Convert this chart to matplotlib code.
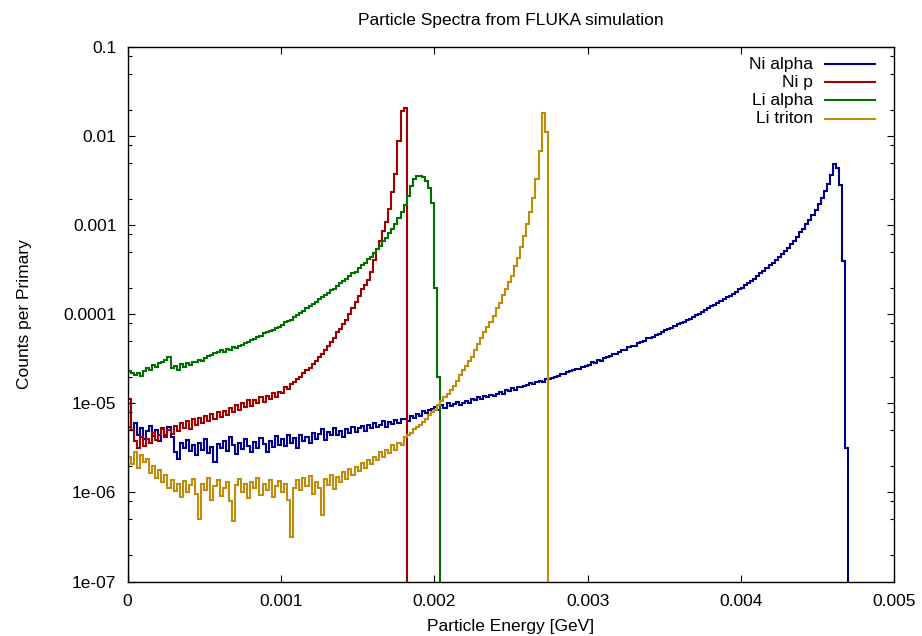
import numpy as np
import matplotlib
matplotlib.use("Agg")
import matplotlib.pyplot as plt
from matplotlib.ticker import FixedLocator, FixedFormatter, LogLocator, NullLocator, NullFormatter

binWidth = 2e-5  # GeV per histogram bin, first bin starts at 0

# log10(counts per primary), one value per bin
niAlphaLog = [
    -5.26, -5.30, -5.22, -5.36, -5.28, -5.40, -5.31, -5.25, -5.37, -5.30,
    -5.42, -5.29, -5.35, -5.27, -5.38, -5.55, -5.62, -5.44, -5.50, -5.41,
    -5.53, -5.47, -5.58, -5.45, -5.52, -5.40, -5.56, -5.49, -5.66, -5.46,
    -5.50, -5.42, -5.53, -5.38, -5.47, -5.57, -5.44, -5.51, -5.40, -5.48,
    -5.55, -5.43, -5.50, -5.39, -5.46, -5.54, -5.42, -5.49, -5.37, -5.47,
    -5.40, -5.48, -5.36, -5.45, -5.39, -5.50, -5.35, -5.42, -5.38, -5.44,
    -5.33, -5.40, -5.34, -5.29, -5.41, -5.32, -5.36, -5.28, -5.35, -5.31,
    -5.38, -5.29, -5.33, -5.27, -5.32, -5.28, -5.25, -5.31, -5.24, -5.28,
    -5.22, -5.27, -5.24, -5.20, -5.26, -5.21, -5.23, -5.19, -5.22, -5.18,
    -5.17, -5.20, -5.14, -5.16, -5.12, -5.14, -5.09, -5.11, -5.07, -5.06,
    -5.04, -5.07, -5.02, -5.05, -5.00, -5.03, -5.01, -4.98, -5.02, -4.99,
    -4.97, -4.99, -4.95, -4.96, -4.93, -4.95, -4.92, -4.93, -4.90, -4.92,
    -4.89, -4.87, -4.89, -4.85, -4.86, -4.83, -4.85, -4.82, -4.81, -4.80,
    -4.79, -4.77, -4.78, -4.76, -4.75, -4.76, -4.73, -4.73, -4.71, -4.70,
    -4.69, -4.67, -4.67, -4.65, -4.64, -4.63, -4.61, -4.61, -4.59, -4.58,
    -4.57, -4.54, -4.55, -4.51, -4.52, -4.49, -4.48, -4.47, -4.44, -4.44,
    -4.42, -4.40, -4.40, -4.37, -4.36, -4.35, -4.32, -4.31, -4.30, -4.27,
    -4.27, -4.25, -4.23, -4.22, -4.20, -4.18, -4.16, -4.15, -4.13, -4.11,
    -4.10, -4.08, -4.06, -4.05, -4.03, -4.01, -3.99, -3.97, -3.95, -3.93,
    -3.91, -3.89, -3.87, -3.85, -3.83, -3.81, -3.79, -3.77, -3.75, -3.72,
    -3.70, -3.67, -3.65, -3.62, -3.60, -3.57, -3.54, -3.51, -3.48, -3.45,
    -3.42, -3.39, -3.36, -3.32, -3.29, -3.25, -3.21, -3.17, -3.13, -3.08,
    -3.04, -2.99, -2.94, -2.88, -2.83, -2.76, -2.69, -2.61, -2.53, -2.43,
    -2.31, -2.36, -2.55, -3.40, -5.50,
]
niPLog = [
    -4.95, -5.30, -5.42, -5.50, -5.38, -5.48, -5.40, -5.45, -5.33, -5.41,
    -5.35, -5.28, -5.38, -5.30, -5.34, -5.25, -5.31, -5.22, -5.28, -5.20,
    -5.29, -5.18, -5.24, -5.16, -5.22, -5.14, -5.20, -5.12, -5.17, -5.10,
    -5.15, -5.08, -5.13, -5.05, -5.10, -5.02, -5.07, -4.99, -5.04, -4.96,
    -5.03, -4.96, -5.00, -4.93, -4.98, -4.92, -4.95, -4.88, -4.93, -4.87,
    -4.88, -4.82, -4.84, -4.78, -4.76, -4.73, -4.70, -4.66, -4.63, -4.60,
    -4.56, -4.52, -4.48, -4.44, -4.40, -4.35, -4.31, -4.26, -4.20, -4.16,
    -4.11, -4.06, -3.99, -3.93, -3.86, -3.79, -3.72, -3.67, -3.61, -3.52,
    -3.39, -3.27, -3.17, -3.06, -2.96, -2.82, -2.62, -2.42, -2.05, -1.72,
    -1.68,
]
liAlphaLog = [
    -4.64, -4.66, -4.68, -4.66, -4.69, -4.64, -4.60, -4.62, -4.57, -4.59,
    -4.55, -4.53, -4.51, -4.48, -4.60, -4.58, -4.62, -4.56, -4.59, -4.55,
    -4.57, -4.53, -4.54, -4.51, -4.52, -4.49, -4.47, -4.46, -4.43, -4.42,
    -4.40, -4.42, -4.39, -4.40, -4.37, -4.38, -4.35, -4.34, -4.32, -4.31,
    -4.29, -4.28, -4.25, -4.24, -4.21, -4.20, -4.19, -4.17, -4.15, -4.14,
    -4.12, -4.09, -4.07, -4.06, -4.03, -4.01, -3.98, -3.96, -3.93, -3.91,
    -3.88, -3.86, -3.83, -3.81, -3.78, -3.76, -3.73, -3.71, -3.68, -3.65,
    -3.63, -3.60, -3.57, -3.54, -3.52, -3.48, -3.45, -3.42, -3.38, -3.35,
    -3.31, -3.27, -3.23, -3.18, -3.14, -3.09, -3.04, -2.98, -2.92, -2.85,
    -2.77, -2.67, -2.56, -2.48, -2.45, -2.44, -2.46, -2.50, -2.58, -2.75,
    -3.70, -4.70,
]
liTritonLog = [
    -5.60, -5.68, -5.55, -5.72, -5.58, -5.66, -5.62, -5.78, -5.70, -5.84,
    -5.75, -5.88, -5.80, -5.95, -5.86, -5.98, -5.90, -6.05, -5.87, -6.00,
    -5.92, -5.85, -6.02, -6.30, -5.90, -5.97, -5.84, -6.08, -5.93, -5.86,
    -6.04, -5.95, -5.88, -6.10, -6.32, -5.92, -5.85, -6.00, -5.90, -6.06,
    -5.88, -5.95, -5.84, -6.03, -5.91, -5.97, -5.86, -6.05, -5.93, -5.87,
    -6.00, -5.90, -6.08, -6.50, -5.95, -5.86, -5.97, -5.84, -5.93, -5.82,
    -6.02, -5.88, -5.95, -6.25, -5.85, -5.92, -5.80, -5.96, -5.83, -5.88,
    -5.77, -5.85, -5.74, -5.80, -5.71, -5.76, -5.67, -5.72, -5.63, -5.68,
    -5.60, -5.64, -5.55, -5.60, -5.52, -5.56, -5.47, -5.52, -5.44, -5.47,
    -5.38, -5.35, -5.33, -5.29, -5.26, -5.24, -5.21, -5.18, -5.13, -5.10,
    -5.07, -5.02, -4.97, -4.93, -4.89, -4.85, -4.80, -4.75, -4.68, -4.63,
    -4.58, -4.52, -4.48, -4.40, -4.33, -4.26, -4.20, -4.14, -4.08, -4.02,
    -3.93, -3.87, -3.78, -3.72, -3.64, -3.57, -3.46, -3.37, -3.24, -3.12,
    -2.99, -2.85, -2.69, -2.48, -2.17, -1.74, -1.95,
]

seriesNames = ["Ni alpha", "Ni p", "Li alpha", "Li triton"]
seriesLogs = [niAlphaLog, niPLog, liAlphaLog, liTritonLog]
colors = ["#00008b", "#a00000", "#007000", "#c08c0c"]

xTickVals = [0, 0.001, 0.002, 0.003, 0.004, 0.005]
xTickLabels = ["0", "0.001", "0.002", "0.003", "0.004", "0.005"]
yTickVals = [1e-1, 1e-2, 1e-3, 1e-4, 1e-5, 1e-6, 1e-7]
yTickLabels = ["0.1", "0.01", "0.001", "0.0001", "1e-05", "1e-06", "1e-07"]

plt.rcParams['font.family'] = ['Liberation Sans', 'DejaVu Sans']
fSize = 12.5
W, H = 922, 636
axL, axR, axT, axB = 127.6, 894.3, 47.3, 581.5

fig = plt.figure(figsize=(W / 100, H / 100), dpi=100)
ax = fig.add_axes([axL / W, 1 - axB / H, (axR - axL) / W, (axB - axT) / H])

for name, logs, c in zip(seriesNames, seriesLogs, colors):
    vals = 10 ** np.array(logs)
    edges = np.arange(len(vals) + 1) * binWidth
    ax.stairs(vals, edges, baseline=1e-12, color=c, linewidth=1.5)

ax.set_yscale("log")
ax.set_xlim(0, 0.005)
ax.set_ylim(1e-7, 0.1)

ax.xaxis.set_major_locator(FixedLocator(xTickVals))
ax.xaxis.set_major_formatter(FixedFormatter(xTickLabels))
ax.xaxis.set_minor_locator(NullLocator())
ax.yaxis.set_major_locator(FixedLocator(yTickVals))
ax.yaxis.set_major_formatter(FixedFormatter(yTickLabels))
ax.yaxis.set_minor_locator(LogLocator(base=10, subs=(2, 5, 8), numticks=30))
ax.yaxis.set_minor_formatter(NullFormatter())

ax.tick_params(which="both", direction="in", top=True, right=True, labelsize=fSize, width=0.8)
ax.tick_params(which="major", length=5)
ax.tick_params(which="minor", length=3)
ax.tick_params(axis="x", pad=9)
ax.tick_params(axis="y", pad=8)
for s in ax.spines.values():
    s.set_linewidth(1.0)

fig.text((axL + axR) / 2 / W, 1 - 20 / H, "Particle Spectra from FLUKA simulation",
         ha="center", va="center", fontsize=fSize)
fig.text((axL + axR) / 2 / W, 1 - 627 / H, "Particle Energy [GeV]",
         ha="center", va="center", fontsize=fSize)
fig.text(25 / W, 1 - (axT + axB) / 2 / H, "Counts per Primary",
         ha="center", va="center", rotation=90, fontsize=fSize)

# gnuplot-style key: label right-aligned, sample line to its right
rowY = [0.9687, 0.9345, 0.9008, 0.8664]
for name, c, yy in zip(seriesNames, colors, rowY):
    ax.text(0.894, yy, name, transform=ax.transAxes, ha="right", va="center", fontsize=fSize)
    ax.plot([0.9096, 0.9748], [yy, yy], transform=ax.transAxes, color=c, linewidth=1.5)

fig.savefig("out.png", dpi=100)
